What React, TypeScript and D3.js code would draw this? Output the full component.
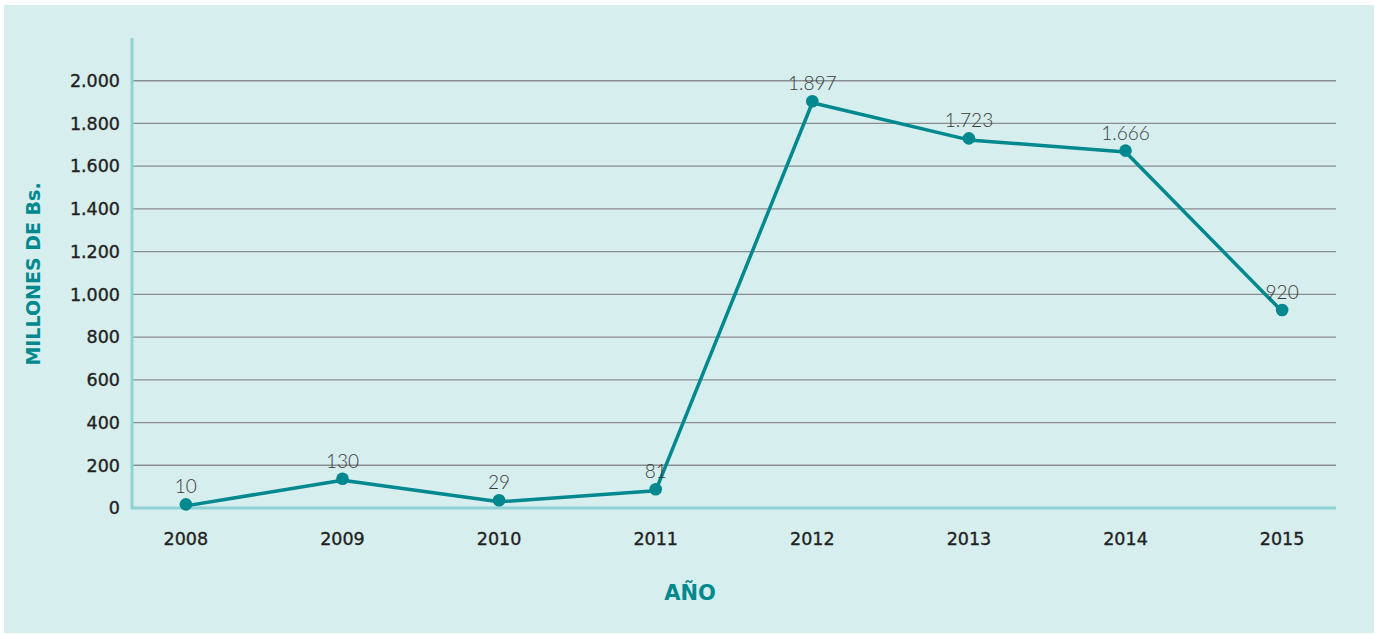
import React from "react";
import * as d3 from "d3";

const years = ["2008", "2009", "2010", "2011", "2012", "2013", "2014", "2015"];
const values = [10, 130, 29, 81, 1897, 1723, 1666, 920];
const yTicks = [0, 200, 400, 600, 800, 1000, 1200, 1400, 1600, 1800, 2000];

const W = 1378;
const H = 634;
const TEAL = "#00888f";
const TICK_FONT = "'DejaVu Sans', sans-serif";
const fmt = (v: number) => d3.format(",")(v).replace(/,/g, ".");

export default function App() {
  const x = d3.scalePoint<string>().domain(years).range([132, 1336]).padding(0.344);
  const y = d3.scaleLinear().domain([0, 2200]).range([508, 38]);
  const line = d3
    .line<number>()
    .x((_, i) => x(years[i]) as number)
    .y((d) => y(d));

  return (
    <svg
      width={W}
      height={H}
      style={{ position: "absolute", left: 0, top: 0, fontFamily: "Lato, 'Open Sans', sans-serif" }}
    >
      <rect x={0} y={0} width={W} height={H} fill="#ffffff" />
      <rect x={4} y={5} width={1370} height={628} fill="#d6eeee" />
      {yTicks.slice(1).map((t) => (
        <line key={t} x1={132} x2={1336} y1={y(t)} y2={y(t)} stroke="#8a8d8f" strokeWidth={1.3} />
      ))}
      <line x1={132} x2={132} y1={38} y2={509} stroke="#8fd3d6" strokeWidth={3} />
      <line x1={131} x2={1336} y1={508} y2={508} stroke="#8fd3d6" strokeWidth={3} />
      {yTicks.map((t) => (
        <text
          key={t}
          x={120}
          y={y(t)}
          dy="0.36em"
          textAnchor="end"
          fontSize={17.5}
          fontFamily={TICK_FONT}
          fill="#231f20"
          stroke="#231f20"
          strokeWidth={0.35}
        >
          {fmt(t)}
        </text>
      ))}
      {years.map((yr) => (
        <text
          key={yr}
          x={x(yr)}
          y={545}
          textAnchor="middle"
          fontSize={17.5}
          fontFamily={TICK_FONT}
          fill="#231f20"
          stroke="#231f20"
          strokeWidth={0.35}
        >
          {yr}
        </text>
      ))}
      <path d={line(values) || ""} fill="none" stroke={TEAL} strokeWidth={3.5} strokeLinejoin="round" />
      {values.map((v, i) => (
        <circle key={i} cx={x(years[i])} cy={y(v) - 1.5} r={6.3} fill={TEAL} />
      ))}
      {values.map((v, i) => (
        <text
          key={"l" + i}
          x={x(years[i])}
          y={y(v) - 12.5}
          textAnchor="middle"
          fontSize={19}
          fontWeight={300}
          fill="#3a3a3a"
        >
          {fmt(v)}
        </text>
      ))}
      <text
        transform={`translate(40,274) rotate(-90)`}
        textAnchor="middle"
        fontSize={19}
        fontWeight={700}
        fontFamily={TICK_FONT}
        fill={TEAL}
      >
        MILLONES DE Bs.
      </text>
      <text x={690} y={600} textAnchor="middle" fontSize={21} fontWeight={700} fontFamily={TICK_FONT} fill={TEAL}>
        AÑO
      </text>
    </svg>
  );
}
